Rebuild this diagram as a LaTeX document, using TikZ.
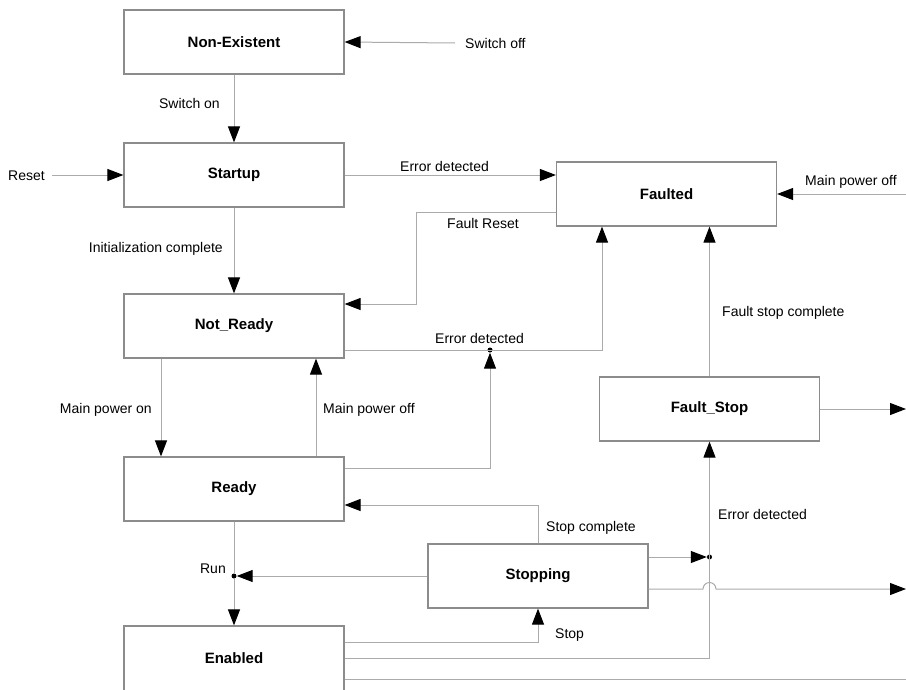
\documentclass[tikz,border=0pt]{standalone}
\usepackage{fontspec}
\setmainfont{Liberation Sans}
\usetikzlibrary{arrows.meta}
\definecolor{boxgray}{HTML}{8C8C8C}
\definecolor{linegray}{HTML}{ABABAB}

\begin{document}
\begin{tikzpicture}[x=1pt,y=-1pt,
    state/.style={draw=boxgray, line width=1.2pt, minimum width=220pt,
        minimum height=64pt, font=\fontsize{15}{18}\selectfont\bfseries},
    lbl/.style={font=\fontsize{14}{16}\selectfont, inner sep=0pt},
    flow/.style={draw=linegray, line width=1pt,
        -{Triangle[length=16pt,width=12pt,color=black]}},
    wire/.style={draw=linegray, line width=1pt},
    junc/.style={circle, fill=black, inner sep=0pt, minimum size=5pt}]
    \useasboundingbox (0,0) rectangle (906,689);
    \clip (0,0) rectangle (906,689);

    %% States
    \node[state] (nonexist) at (234,42) {Non-Existent};
    \node[state] (startup) at (234,175) {Startup};
    \node[state] (faulted) at (666.5,194) {Faulted};
    \node[state] (notready) at (234,326) {Not\_Ready};
    \node[state] (ready) at (234,489) {Ready};
    \node[state] (faultstop) at (709.5,409) {Fault\_Stop};
    \node[state] (stopping) at (538,576) {Stopping};
    \node[state, minimum height=70pt, text depth=6pt] (enabled) at (234,661) {Enabled};

    %% Junctions and free ends
    \node[junc] (errjoin) at (490,350) {};
    \node[junc] (runjoin) at (234,576) {};
    \node[junc] (stopjoin) at (709.5,557) {};
    \coordinate (pwroff) at (906,194);
    \coordinate (fsout) at (906,409);
    \coordinate (stopout) at (906,589);
    \coordinate (enout) at (906,679);

    %% Labels
    \node[lbl, anchor=base west] (swoff) at (465,48) {Switch off};
    \node[lbl, anchor=base east] (swon) at (220,108) {Switch on};
    \node[lbl, anchor=base east] (reset) at (45,180) {Reset};
    \node[lbl, anchor=base west] (errtop) at (400,171) {Error detected};
    \node[lbl, anchor=base west] (freset) at (447,228) {Fault Reset};
    \node[lbl, anchor=base east] (initdone) at (223,252) {Initialization complete};
    \node[lbl, anchor=base west] (errmid) at (435,343) {Error detected};
    \node[lbl, anchor=base west] (pwrofftxt) at (805,185) {Main power off};
    \node[lbl, anchor=base west] (fsdone) at (722,316) {Fault stop complete};
    \node[lbl, anchor=base east] (pwron) at (152,413) {Main power on};
    \node[lbl, anchor=base west] (pwroffmid) at (323,413) {Main power off};
    \node[lbl, anchor=base west] (stopdone) at (546,531) {Stop complete};
    \node[lbl, anchor=base west] (errlow) at (718,519) {Error detected};
    \node[lbl, anchor=base east] (run) at (226,573) {Run};
    \node[lbl, anchor=base west] (stop) at (555,638) {Stop};

    %% Transitions
    \draw[flow] ([xshift=-10pt]swoff.west) -- (nonexist.east);
    \draw[flow] (nonexist.south) -- (startup.north);
    \draw[flow] ([xshift=7pt]reset.east |- startup.west) -- (startup.west);
    \draw[flow] (startup.east) -- (faulted.west |- startup.east);
    \draw[flow] (startup.south) -- (notready.north);
    \draw[flow] (faulted.west |- 0,212) -- (416,212) -- (416,304)
        -- (notready.east |- 0,304);
    \draw[flow] (notready.east |- 0,350) -| (faulted.south -| 602,0);
    \draw[flow] (notready.south -| 161,0) -- (ready.north -| 161,0);
    \draw[flow] (ready.north -| 316,0) -- (notready.south -| 316,0);
    \draw[flow] (ready.east |- 0,468) -| (errjoin);
    \draw[flow] (pwroff) -- (faulted.east);
    \draw[flow] (faultstop.north) -- (faulted.south -| faultstop.north);
    \draw[flow] (faultstop.east) -- (fsout);
    \draw[flow] (stopping.north) |- (ready.east |- 0,505);
    \draw[wire] (ready.south) -- (runjoin);
    \draw[flow] (runjoin) -- (enabled.north);
    \draw[flow] (stopping.west) -- (runjoin);
    \draw[flow] (stopping.east |- 0,557) -- (stopjoin);
    \draw[flow] (stopping.east |- 0,589) -- (703,589)
        arc[start angle=180, end angle=360, radius=6.5] -- (stopout);
    \draw[flow] (enabled.east |- 0,642) -| (stopping.south);
    \draw[flow] (enabled.east |- 0,658) -| (faultstop.south);
    \draw[wire] (enabled.east |- 0,679) -- (enout);
\end{tikzpicture}
\end{document}
